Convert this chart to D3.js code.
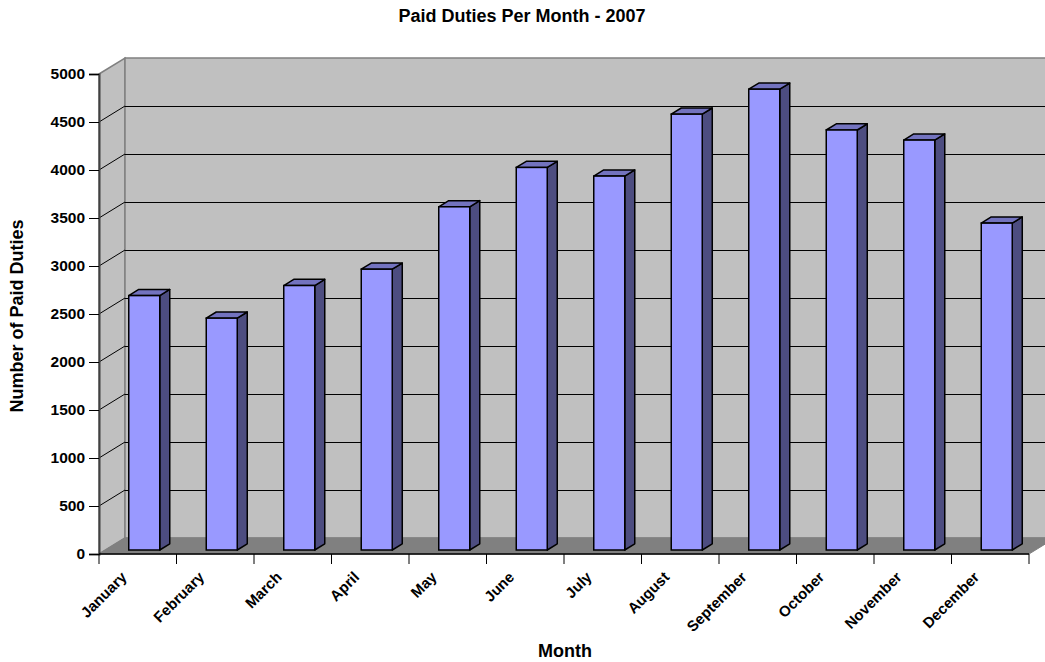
<!DOCTYPE html>
<html>
<head>
<meta charset="utf-8">
<script src="https://cdn.jsdelivr.net/npm/d3@7"></script>
<style>
  body { margin: 0; background: #fff; }
  text { font-family: Arial, 'Liberation Sans', sans-serif; font-weight: bold; fill: #000; }
</style>
</head>
<body>
<svg id="mainsvg" width="1045" height="662"></svg>
<script>
const months = ['January', 'February', 'March', 'April', 'May', 'June', 'July', 'August', 'September', 'October', 'November', 'December'];
const duties = [2650, 2415, 2755, 2925, 3575, 3985, 3895, 4540, 4800, 4375, 4270, 3405];
const yTicks = [0, 500, 1000, 1500, 2000, 2500, 3000, 3500, 4000, 4500, 5000];

const svg = d3.select('#mainsvg');
// front plane of the 3d box
const plotLeft = 99, plotRight = 1029, plotTop = 74, plotBottom = 554;
// depth of the box (back wall offset)
const depthX = 26, depthY = -16;
// bars sit between these depth fractions
const barD1 = 0.25, barD2 = 0.635;

const xScale = d3.scaleBand().domain(months).range([plotLeft, plotRight]).paddingInner(0).paddingOuter(0);
const yScale = d3.scaleLinear().domain([0, 5000]).range([plotBottom, plotTop]);

const pts = p => p.map(d => d.join(',')).join(' ');

// side wall
svg.append('polygon')
  .attr('points', pts([[plotLeft, plotTop], [plotLeft + depthX, plotTop + depthY], [plotLeft + depthX, plotBottom + depthY], [plotLeft, plotBottom]]))
  .attr('fill', '#c0c0c0').attr('stroke', '#808080').attr('stroke-width', 1.5);

// back wall
svg.append('polygon')
  .attr('points', pts([[plotLeft + depthX, plotTop + depthY], [plotRight + depthX, plotTop + depthY], [plotRight + depthX, plotBottom + depthY], [plotLeft + depthX, plotBottom + depthY]]))
  .attr('fill', '#c0c0c0').attr('stroke', '#808080').attr('stroke-width', 1.5);

// floor
svg.append('polygon')
  .attr('points', pts([[plotLeft, plotBottom], [plotRight, plotBottom], [plotRight + depthX, plotBottom + depthY], [plotLeft + depthX, plotBottom + depthY]]))
  .attr('fill', '#808080').attr('stroke', '#808080');

// gridlines: diagonal on side wall + straight on back wall
const grid = svg.append('g');
const gridVals = yTicks.filter(d => d > 0 && d < 5000);
grid.selectAll('.gdiag').data(gridVals).enter().append('line')
  .attr('x1', plotLeft).attr('y1', d => yScale(d))
  .attr('x2', plotLeft + depthX).attr('y2', d => yScale(d) + depthY)
  .attr('stroke', '#000').attr('stroke-width', 1);
grid.selectAll('.gback').data(gridVals).enter().append('line')
  .attr('x1', plotLeft + depthX).attr('x2', plotRight + depthX)
  .attr('y1', d => yScale(d) + depthY + 0.5).attr('y2', d => yScale(d) + depthY + 0.5)
  .attr('stroke', '#000').attr('stroke-width', 1).attr('shape-rendering', 'crispEdges');

// bars
const bw = xScale.bandwidth() / 2.5;
const bdx = (barD2 - barD1) * depthX, bdy = (barD2 - barD1) * depthY;
const bars = svg.append('g').selectAll('g').data(months).enter().append('g');
bars.each(function(m, i) {
  const g = d3.select(this);
  const x0 = xScale(m) + (xScale.bandwidth() - bw) / 2 + barD1 * depthX;
  const x1 = x0 + bw;
  const y0 = yScale(0) + barD1 * depthY;
  const y1 = yScale(duties[i]) + barD1 * depthY;
  g.append('polygon')
    .attr('points', pts([[x1, y1], [x1 + bdx, y1 + bdy], [x1 + bdx, y0 + bdy], [x1, y0]]))
    .attr('fill', '#4d4d80').attr('stroke', '#000').attr('stroke-width', 1.5).attr('stroke-linejoin', 'round');
  g.append('polygon')
    .attr('points', pts([[x0, y1], [x0 + bdx, y1 + bdy], [x1 + bdx, y1 + bdy], [x1, y1]]))
    .attr('fill', '#7373bf').attr('stroke', '#000').attr('stroke-width', 1.5).attr('stroke-linejoin', 'round');
  g.append('rect')
    .attr('x', x0).attr('y', y1).attr('width', bw).attr('height', y0 - y1)
    .attr('fill', '#9999ff').attr('stroke', '#000').attr('stroke-width', 1.5);
});

// y axis
const yAxis = svg.append('g')
  .attr('transform', `translate(${plotLeft},0)`)
  .call(d3.axisLeft(yScale).tickValues(yTicks).tickSize(10).tickPadding(4).tickFormat(d3.format('d')));
yAxis.select('.domain').attr('stroke', '#404040').attr('stroke-width', 2);
yAxis.selectAll('.tick line').attr('stroke', '#000');
yAxis.selectAll('.tick text').style('font-size', '15.5px').attr('font-family', null).attr('fill', '#000');

// x axis
const xAxis = svg.append('g').attr('transform', `translate(0,${plotBottom})`);
xAxis.append('line').attr('x1', plotLeft).attr('x2', plotRight).attr('stroke', '#000').attr('stroke-width', 1.5);
xAxis.selectAll('.xtick').data(d3.range(months.length + 1)).enter().append('line')
  .attr('x1', i => plotLeft + i * xScale.step()).attr('x2', i => plotLeft + i * xScale.step())
  .attr('y1', 0).attr('y2', 10).attr('stroke', '#000');
xAxis.selectAll('.xlabel').data(months).enter().append('text')
  .attr('transform', d => `translate(${xScale(d) + xScale.bandwidth() / 2 - 10},${24}) rotate(-45)`)
  .attr('text-anchor', 'end')
  .style('font-size', '15px')
  .text(d => d);

// titles
svg.append('text').attr('x', 522).attr('y', 22).attr('text-anchor', 'middle').style('font-size', '18px')
  .text('Paid Duties Per Month - 2007');
svg.append('text').attr('x', 565).attr('y', 657).attr('text-anchor', 'middle').style('font-size', '18px')
  .text('Month');
svg.append('text').attr('transform', 'translate(23,316) rotate(-90)').attr('text-anchor', 'middle').style('font-size', '18px')
  .text('Number of Paid Duties');
</script>
</body>
</html>
